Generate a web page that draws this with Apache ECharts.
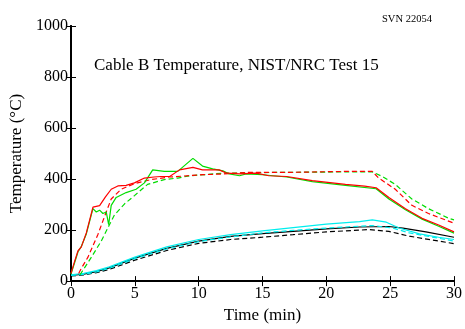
<!DOCTYPE html>
<html><head><meta charset="utf-8">
<script src="https://cdn.jsdelivr.net/npm/echarts@6/dist/echarts.min.js"></script>
<style>html,body{margin:0;padding:0;background:#fff}#c{width:465px;height:329px}</style>
</head><body><div id="c"></div>
<script>
const xTicks = [0,5,10,15,20,25,30];
const yTicks = [0,200,400,600,800,1000];

const redSolidT = [0,0.3,0.55,0.8,1.2,1.72,2.24,2.7,3.15,3.67,4.32,4.97,5.75,6.5,7.05,7.73,8.5,9.55,10.3,11.6,12.2,13.2,14.5,15.5,16.9,18.9,21.5,23.0,23.9,24.9,26.2,27.5,28.8,30];
const redSolidV = [30,80,119,133,189,290,296,330,360,373,375,385,404,408,410,410,436,446,436,436,423,420,423,413,410,394,379,372,366,328,284,246,220,193];

const greenSolidT = [0,0.3,0.55,0.8,1.2,1.72,1.98,2.24,2.5,2.76,2.95,3.15,3.54,4.32,5.1,5.75,6.4,7.3,8.36,9.55,10.3,11.1,11.9,12.4,13.2,13.7,15,16.9,18.9,21.5,23.9,24.9,26.2,27.5,28.8,30];
const greenSolidV = [28,75,115,135,185,284,271,278,265,271,221,297,328,347,360,385,436,430,430,481,451,440,432,420,413,420,417,408,390,375,362,322,280,243,215,188];

const redDashT = [0.6,0.8,1.33,2.1,2.76,3.15,3.93,4.97,6.27,7.73,10.3,11.9,13.7,16.9,21.5,23.6,24.1,25.4,26.7,28,30];
const redDashV = [30,49,94,182,271,322,360,382,398,408,417,420,426,426,430,430,404,360,297,265,227];

const greenDashT = [0.7,0.94,1.6,2.37,3.0,3.4,4.2,4.97,6.0,7.3,8.36,9.3,11.9,16,21.5,23.6,24.4,25.4,26.7,28,29.6,30];
const greenDashV = [25,43,94,157,220,259,303,335,379,398,404,413,423,426,428,428,410,379,322,284,246,240];

const cyanSolidT = [0,1,2,3,5,7.5,10,12.5,15,17.4,20,22.6,23.6,24.7,25.7,27.3,28.8,30];
const cyanSolidV = [25,30,41,56,94,134,163,182,197,210,223,233,240,231,208,185,172,163];

const blackSolidT = [0,1,2,3,5,7.5,10,12.5,15,17.4,20,22.6,24.9,26,27.8,30];
const blackSolidV = [22,27,37,52,90,128,157,175,186,195,205,212,214,208,193,172];

const cyanDashT = [0,1,2,3,5,7.5,10,12.5,15,17.4,20,23.6,25.2,26.5,30];
const cyanDashV = [22,26,36,50,88,126,155,173,189,199,208,218,208,189,157];

const blackDashT = [0,1,2,3,5,7.5,10,12.5,15,17.4,20,23.4,24.9,26.5,30];
const blackDashV = [20,24,33,46,82,120,148,163,172,182,193,202,195,176,147];

function pairs(t, v){ return t.map((x,i)=>[x, v[i]]); }
function line(name, t, v, color, dashed){
  return {name, type:'line', xAxisIndex:0, yAxisIndex:0, data:pairs(t,v), symbol:'none', smooth:false,
    lineStyle:{color, width:1.2, type: dashed ? [5,3] : 'solid'}, itemStyle:{color}, animation:false};
}
const font = 'Liberation Serif';
function ax(width){
  return {
    axisLine:{show:true, lineStyle:{color:'#000', width}},
    axisTick:{show:true, inside:true, length:5, lineStyle:{color:'#000'}},
    splitLine:{show:false}
  };
}
const chart = echarts.init(document.getElementById('c'), null, {renderer:'canvas'});
chart.setOption({
  animation:false,
  backgroundColor:'#fff',
  grid:{left:71, right:10, top:26, bottom:43, containLabel:false},
  title:[
    {text:'Cable B Temperature, NIST/NRC Test 15', left:89, top:52, textStyle:{fontFamily:font, fontSize:17, fontWeight:'normal', color:'#000'}},
    {text:'SVN 22054', left:377, top:9, textStyle:{fontFamily:font, fontSize:10.5, fontWeight:'normal', color:'#000'}}
  ],
  xAxis:[
    Object.assign({type:'value', min:xTicks[0], max:xTicks[xTicks.length-1], interval:5, position:'bottom',
      name:'Time (min)', nameLocation:'middle', nameGap:25,
      nameTextStyle:{fontFamily:font, fontSize:17, color:'#000'},
      axisLabel:{fontFamily:font, fontSize:16, color:'#000', margin:5}}, ax(2)),
    Object.assign({type:'value', min:xTicks[0], max:xTicks[xTicks.length-1], interval:5, position:'top',
      axisLabel:{show:false}}, ax(1.5))
  ],
  yAxis:[
    Object.assign({type:'value', min:yTicks[0], max:yTicks[yTicks.length-1], interval:200, position:'left',
      name:'Temperature (°C)', nameLocation:'middle', nameGap:45, nameRotate:90,
      nameTextStyle:{fontFamily:font, fontSize:17, color:'#000'},
      axisLabel:{fontFamily:font, fontSize:16, color:'#000', margin:3, formatter:(v)=>String(v)}}, ax(2)),
    Object.assign({type:'value', min:yTicks[0], max:yTicks[yTicks.length-1], interval:200, position:'right',
      axisLabel:{show:false}}, ax(2))
  ],
  series:[
    line('black solid', blackSolidT, blackSolidV, '#000000', false),
    line('black dashed', blackDashT, blackDashV, '#000000', true),
    line('cyan solid', cyanSolidT, cyanSolidV, '#00eeee', false),
    line('cyan dashed', cyanDashT, cyanDashV, '#00eeee', true),
    line('green dashed', greenDashT, greenDashV, '#00dd00', true),
    line('red dashed', redDashT, redDashV, '#ff0000', true),
    line('green solid', greenSolidT, greenSolidV, '#00dd00', false),
    line('red solid', redSolidT, redSolidV, '#ff0000', false)
  ]
});
</script></body></html>
